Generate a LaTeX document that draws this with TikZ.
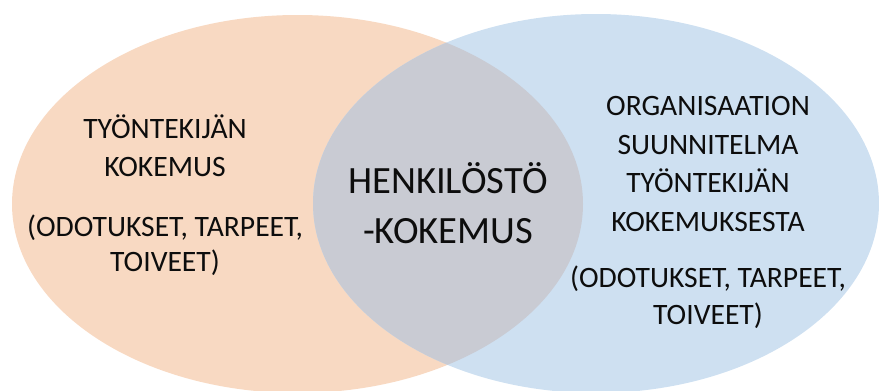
\documentclass[tikz,border=0pt]{standalone}
\usepackage{fontspec}
\setmainfont{Carlito}
\definecolor{peach}{RGB}{248,217,194}
\definecolor{skyb}{RGB}{206,224,241}
\definecolor{overlap}{RGB}{201,203,211}
\definecolor{ink}{RGB}{13,13,13}
\begin{document}
\begin{tikzpicture}[x=1pt,y=-1pt,
  side/.style={anchor=base,inner sep=0pt,text=ink,font=\fontsize{29.6}{35}\selectfont},
  mid/.style={anchor=base,inner sep=0pt,text=ink,font=\fontsize{38.6}{46}\selectfont}]
\useasboundingbox (0,0) rectangle (879,391);
\fill[peach] (297.5,204) ellipse [x radius=285.5, y radius=189];
\fill[skyb] (596,203.5) ellipse [x radius=283, y radius=189.5];
\begin{scope}
  \clip (297.5,204) ellipse [x radius=285.5, y radius=189];
  \fill[overlap] (596,203.5) ellipse [x radius=283, y radius=189.5];
\end{scope}
% left
\node[side] (l1) at (165,138) {TYÖNTEKIJÄN};
\node[side] (l2) at (165,176) {KOKEMUS};
\node[side] (l3) at (165,236) {(ODOTUKSET, TARPEET,};
\node[side] (l4) at (165,271) {TOIVEET)};
% centre
\node[mid] (c1) at (448,193) {HENKILÖSTÖ};
\node[mid] (c2) at (448,243) {-KOKEMUS};
% right
\node[side] (r1) at (708,115) {ORGANISAATION};
\node[side] (r2) at (708,154) {SUUNNITELMA};
\node[side] (r3) at (708,192) {TYÖNTEKIJÄN};
\node[side] (r4) at (708,231) {KOKEMUKSESTA};
\node[side] (r5) at (708,287) {(ODOTUKSET, TARPEET,};
\node[side] (r6) at (708,324) {TOIVEET)};
\end{tikzpicture}
\end{document}
